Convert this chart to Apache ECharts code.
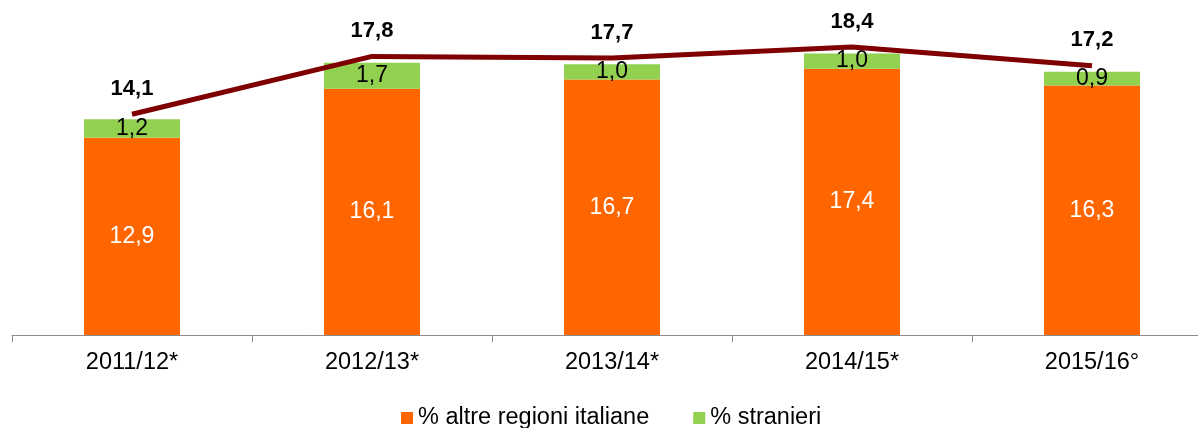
<!DOCTYPE html>
<html>
<head>
<meta charset="utf-8">
<script src="https://cdn.jsdelivr.net/npm/echarts@6/dist/echarts.min.js"></script>
<style>
  html, body { margin: 0; padding: 0; background: #fff; overflow: hidden; }
  /* l'asse continua oltre il bordo destro, come nell'originale */
  #main { width: 1212px; height: 428px; }
</style>
</head>
<body>
<div id="main"></div>
<script>
// anni accademici
var categories = ['2011/12*', '2012/13*', '2013/14*', '2014/15*', '2015/16°'];
var altreRegioni = [12.9, 16.1, 16.7, 17.4, 16.3];
var stranieri = [1.2, 1.7, 1.0, 1.0, 0.9];
var totale = [14.1, 17.8, 17.7, 18.4, 17.2];

function virgola(v) {
    return v.toFixed(1).replace('.', ',');
}

var myChart = echarts.init(document.getElementById('main'));
var font = 'Liberation Sans, Arial, sans-serif';
var option = {
    animation: false,
    textStyle: { fontFamily: font },
    grid: { left: 12, right: 0, top: 29, bottom: 93 },
    legend: {
        top: 401,
        left: 396,
        itemWidth: 12,
        itemHeight: 12,
        itemGap: 44,
        icon: 'rect',
        textStyle: { fontSize: 23.5, color: '#000', fontFamily: font },
        data: ['% altre regioni italiane', '% stranieri']
    },
    xAxis: {
        type: 'category',
        data: categories,
        axisLine: { lineStyle: { color: '#8c8c8c', width: 1 } },
        axisTick: { show: true, length: 7, lineStyle: { color: '#8c8c8c' } },
        axisLabel: { fontSize: 23.5, color: '#000', margin: 16, fontFamily: font }
    },
    yAxis: [
        { type: 'value', min: 0, max: 20, show: false, splitLine: { show: false } },
        { type: 'value', min: 0, max: 19.55, show: false, splitLine: { show: false } }
    ],
    series: [
        {
            name: '% altre regioni italiane',
            type: 'bar',
            stack: 'tot',
            barWidth: 96,
            itemStyle: { color: '#FF6600' },
            label: {
                show: true,
                position: 'inside',
                color: '#fff',
                fontSize: 23,
                fontFamily: font,
                formatter: function (p) { return virgola(p.value); }
            },
            data: altreRegioni
        },
        {
            name: '% stranieri',
            type: 'bar',
            stack: 'tot',
            barWidth: 96,
            itemStyle: { color: '#92D050' },
            label: {
                show: true,
                position: 'inside',
                color: '#000',
                fontSize: 23,
                fontFamily: font,
                formatter: function (p) { return virgola(p.value); }
            },
            data: stranieri
        },
        {
            name: 'totale',
            type: 'line',
            yAxisIndex: 1,
            symbol: 'circle',
            symbolSize: 1,
            showSymbol: true,
            itemStyle: { color: 'rgba(0,0,0,0)' },
            lineStyle: { color: '#7F0000', width: 5, cap: 'butt' },
            label: {
                show: true,
                position: 'top',
                distance: 14,
                color: '#000',
                fontSize: 22,
                fontWeight: 'bold',
                fontFamily: font,
                formatter: function (p) { return virgola(p.value); }
            },
            data: totale,
            z: 5
        }
    ]
};
myChart.setOption(option);
</script>
</body>
</html>
